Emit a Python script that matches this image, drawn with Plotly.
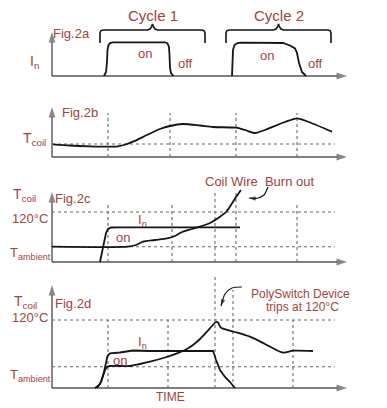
import plotly.graph_objects as go

# ---------------- data (time units from origin, level units above each panel's baseline) -------------
# Fig.2a  input current pulses
pulse1_t = [52, 54, 55, 55.5, 56.5, 58.5, 61, 113, 115.5, 117, 117.5, 118, 119, 121.5]
pulse1_i = [0, 4, 14, 26, 31, 33.2, 33.7, 33.7, 32.5, 29, 21, 8, 3, 0]
pulse2_t = [180, 180.5, 181, 182.5, 185, 188, 231, 238, 243, 245, 247, 250, 254]
pulse2_i = [0, 11, 26, 31, 32.7, 33.3, 33, 30.5, 27.5, 23, 13, 4, 0]
cycle_labels = ["Cycle 1", "Cycle 2"]
cycle_start = [48, 174]
cycle_end = [153, 279]

# Fig.2b  coil temperature
b_t = [1, 18, 38, 56, 66, 72, 81, 95, 108, 118, 131, 148, 161, 184, 193, 203, 213, 221, 233, 245, 258, 280]
b_T = [12.7, 11.5, 10.7, 10.3, 10.7, 12, 15.3, 22, 28, 31, 33, 31.5, 30, 29.3, 27, 24, 27, 30.3, 35, 38.7, 34.5, 25.3]
b_ref = 13
b_marks = [56, 118, 184, 245]

# Fig.2c  coil burn out
c_t = [0, 76, 84, 91, 103, 115, 123, 130, 140, 148, 158, 168, 174, 179, 184, 189]
c_T = [15.3, 15.3, 17, 20.3, 22, 23.7, 26, 30, 33, 35.3, 39, 45.3, 50, 57, 65, 72]
c_it = [48, 50, 52, 54, 56, 59, 68, 128, 188]
c_i = [0, 9, 19, 29, 33, 34.5, 34.7, 34.5, 34.7]
c_trip, c_amb = 50, 15.3
c_marks = [56, 120, 163, 184, 245]
c_mark_top = [57, 57, 72, 72, 57]

# Fig.2d  PolySwitch protected
d_t = [43, 48, 51, 53, 55, 58, 78, 88, 98, 113, 125, 134, 141, 148, 155, 160, 164, 166, 168, 170, 183, 198, 213, 231, 241, 261]
d_T = [0, 4, 12, 18, 21, 22, 22, 24, 26.3, 30.5, 34.7, 38.5, 43, 49, 56.3, 62, 66, 65.5, 61.5, 59.7, 56, 51.3, 44, 35.3, 37.3, 37]
d_it = [45, 49, 52, 54, 55.5, 58, 68, 81, 98, 128, 161, 162.5, 164, 168, 173, 178, 183]
d_i = [0, 6, 16, 26, 32, 34.7, 35.5, 37.5, 37, 37, 37, 33, 28, 18, 11, 6, 0]
d_trip, d_amb = 68, 21.3
d_marks = [56, 116, 163, 181, 241]
d_mark_top = [68, 68, 113, 98, 68]

# ---------------- layout helpers -------------
PAGE_W, PAGE_H = 387, 408
OFF = 8                      # default page body margin
W, H = PAGE_W - OFF, PAGE_H - OFF
TXT = "#a3433c"
INK = "#151515"
AX = "#555555"
DASH = "#6a6a6a"
FONT = "Liberation Sans, Arial, sans-serif"

# panels: (top px, bottom px, baseline px) in page pixels
panels = {
    "y": (OFF, 88, 76),
    "y2": (88, 165, 157),
    "y3": (165, 272, 262),
    "y4": (272, PAGE_H, 388),
}

fig = go.Figure()
layout_axes = {}
for name, (top, bot, base) in panels.items():
    key = "yaxis" if name == "y" else "yaxis" + name[1:]
    layout_axes[key] = dict(domain=[1 - (bot - OFF) / H, 1 - (top - OFF) / H], range=[base - bot, base - top],
                            visible=False, fixedrange=True, anchor="x")
layout_axes["xaxis"] = dict(domain=[0, 1], range=[OFF - 52, PAGE_W - 52], visible=False, fixedrange=True,
                            anchor="y4")

annotations = []


def line(x, y, ya, color=INK, width=1.8, dash=None, shape="linear", head=0):
    mode = "lines+markers" if head else "lines"
    marker = dict(symbol="arrow", angleref="previous", size=[0] * (len(x) - 1) + [head],
                  color=color, line=dict(width=0)) if head else None
    fig.add_trace(go.Scatter(x=x, y=y, xaxis="x", yaxis=ya, mode=mode, hoverinfo="skip", marker=marker,
                             line=dict(color=color, width=width, dash=dash, shape=shape,
                                       smoothing=0.7 if shape == "spline" else None)))


def dashed_h(level, ya):
    line([0, 283], [level, level], ya, color=DASH, width=1.1, dash="3px,3px")


def dashed_v(t, top, ya):
    line([t, t], [0, top], ya, color=DASH, width=1.1, dash="3px,3px")


def text(t, lvl, s, ya, size=13, color=TXT, xanchor="center"):
    annotations.append(dict(x=t, y=lvl, xref="x", yref=ya, text=s, showarrow=False,
                            font=dict(family=FONT, size=size, color=color), xanchor=xanchor,
                            yanchor="middle", borderpad=0))


def axes(ya, ytop):
    line([0, 0], [0, ytop], ya, color=AX, width=1.4, head=11)
    line([0, 295], [0, 0], ya, color=AX, width=1.4, head=11)


def brace(s, e, ya):
    m = (s + e) / 2
    bx = [s, s, s + 0.8, s + 3, m - 5, m - 2.5, m - 0.8, m, m + 0.8, m + 2.5, m + 5, e - 3, e - 0.8, e, e]
    by = [33, 43, 45.2, 46, 46, 47, 49.5, 52, 49.5, 47, 46, 46, 45.2, 43, 33]
    line(bx, by, ya, width=1.6)
    return m

# ---- Fig.2a ----
axes("y", 44)
line(pulse1_t, pulse1_i, "y")
line(pulse2_t, pulse2_i, "y")
for lab, s, e in zip(cycle_labels, cycle_start, cycle_end):
    m = brace(s, e, "y")
    text(m, 61, lab, "y", size=15)
text(19, 43, "Fig.2a", "y", size=13)
text(-18, 14, "I<sub>n</sub>", "y", size=14)
text(93, 23, "on", "y", size=13)
text(133, 13, "off", "y", size=13)
text(215, 21, "on", "y", size=13)
text(263, 13, "off", "y", size=13)

# ---- Fig.2b ----
axes("y2", 50)
dashed_h(b_ref, "y2")
for t in b_marks:
    dashed_v(t, 44, "y2")
line(b_t, b_T, "y2", shape="spline")
text(28, 44, "Fig.2b", "y2", size=13)
text(-18, 18, "T<sub>coil</sub>", "y2", size=14)

# ---- Fig.2c ----
axes("y3", 70)
dashed_h(c_trip, "y3")
dashed_h(c_amb, "y3")
for t, tp in zip(c_marks, c_mark_top):
    dashed_v(t, tp, "y3")
line(c_t, c_T, "y3", shape="spline")
line(c_it, c_i, "y3")
text(21, 64, "Fig.2c", "y3", size=13)
text(-28, 67, "T<sub>coil</sub>", "y3", size=14)
text(-22, 44, "120°C", "y3", size=13)
text(-43, 9, "T<sub>ambient</sub>", "y3", size=13, xanchor="left")
text(90, 42, "I<sub>n</sub>", "y3", size=13)
text(71, 25, "on", "y3", size=13)
text(207, 81, "Coil Wire  Burn out", "y3", size=13)
line([216, 212, 204, 197], [75, 67, 63.5, 64], "y3", width=1.2, shape="spline", head=7)

# ---- Fig.2d ----
axes("y4", 103)
dashed_h(d_trip, "y4")
dashed_h(d_amb, "y4")
for t, tp in zip(d_marks, d_mark_top):
    dashed_v(t, tp, "y4")
line(d_t, d_T, "y4", shape="spline")
line(d_it, d_i, "y4")
text(21, 85, "Fig.2d", "y4", size=13)
text(-27, 86, "T<sub>coil</sub>", "y4", size=14)
text(-22, 71, "120°C", "y4", size=13)
text(-43, 13, "T<sub>ambient</sub>", "y4", size=13, xanchor="left")
text(90, 46, "I<sub>n</sub>", "y4", size=13)
text(68, 28, "on", "y4", size=13)
text(248, 94, "PolySwitch Device", "y4", size=12)
text(250, 81, "trips at 120°C", "y4", size=12)
line([190, 180, 173, 169], [101, 100, 94, 82], "y4", width=1.2, shape="spline", head=7)
text(118, -9, "TIME", "y4", size=12)

fig.update_layout(width=W, height=H, margin=dict(l=0, r=0, t=0, b=0), showlegend=False,
                  paper_bgcolor="white", plot_bgcolor="white", annotations=annotations, **layout_axes)
fig.write_html("out.html")
